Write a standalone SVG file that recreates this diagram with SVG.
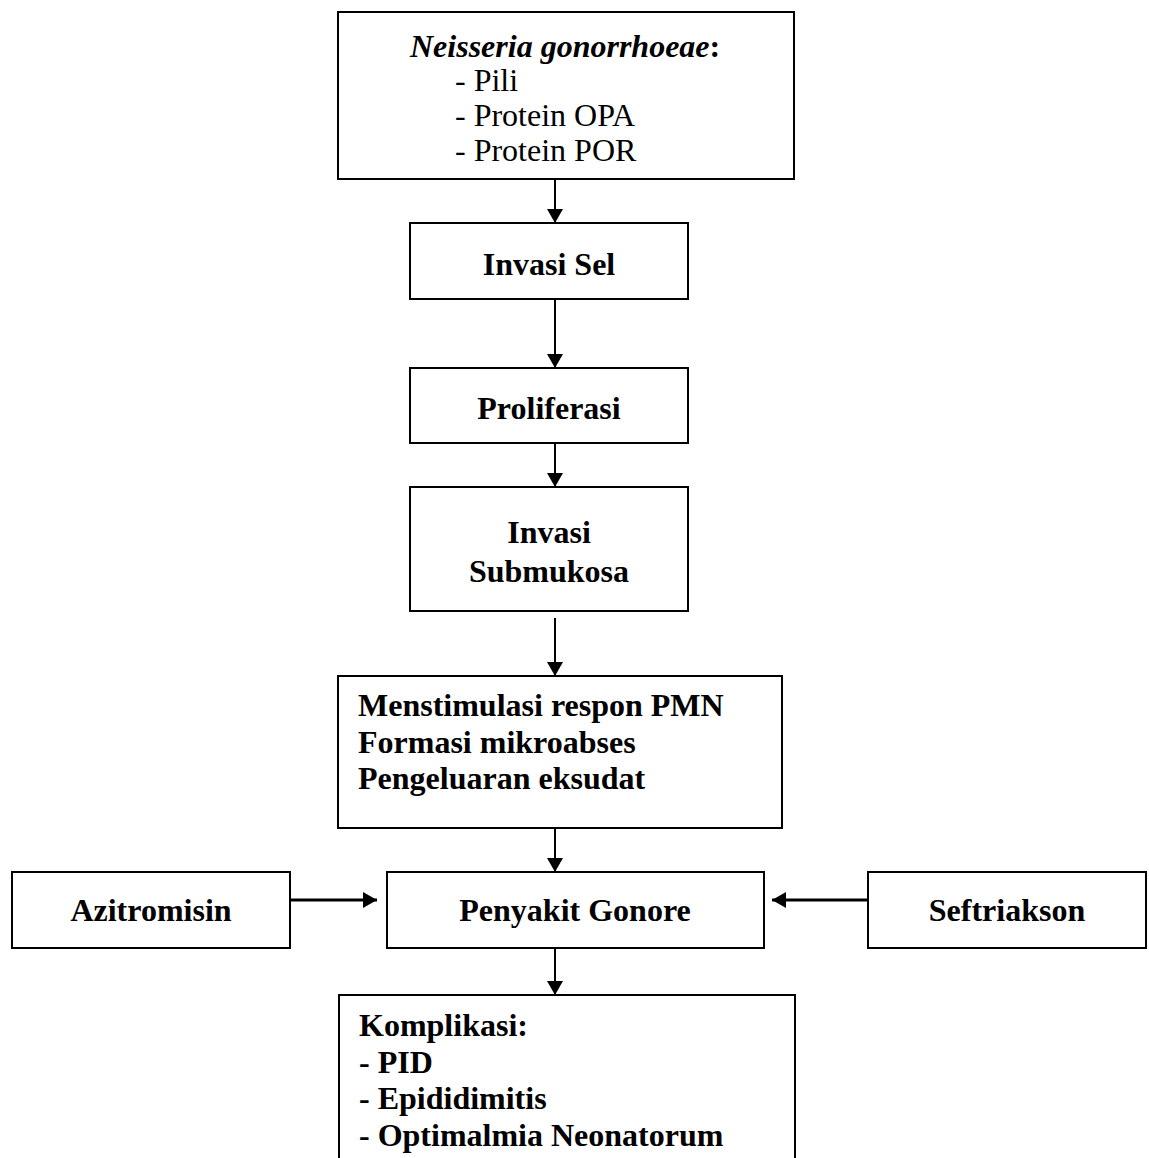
<svg xmlns="http://www.w3.org/2000/svg" width="1149" height="1158" viewBox="0 0 1149 1158">
<style>
.box{fill:#fff;stroke:#000;stroke-width:2}
.t{font-family:"Liberation Serif","Times New Roman",serif;font-size:32px;fill:#000}
.b{font-weight:bold}
.c{text-anchor:middle}
.ln{stroke:#000;stroke-width:2;fill:none}
.thick{stroke-width:3}
</style>
<defs>
<marker id="ah" markerUnits="userSpaceOnUse" markerWidth="16" markerHeight="16" refX="14" refY="8" orient="auto">
<path d="M0,0 L14,8 L0,16 Z" fill="#000"/>
</marker>
</defs>
<rect width="1149" height="1158" fill="#fff"/>
<g id="connectors">
<line class="ln" x1="555" y1="179" x2="555" y2="223" marker-end="url(#ah)"/>
<line class="ln" x1="555" y1="299" x2="555" y2="368" marker-end="url(#ah)"/>
<line class="ln" x1="555" y1="443" x2="555" y2="487" marker-end="url(#ah)"/>
<line class="ln" x1="555" y1="618" x2="555" y2="676" marker-end="url(#ah)"/>
<line class="ln" x1="555" y1="828" x2="555" y2="872" marker-end="url(#ah)"/>
<line class="ln thick" x1="290" y1="900" x2="377" y2="900" marker-end="url(#ah)"/>
<line class="ln thick" x1="868" y1="900" x2="772" y2="900" marker-end="url(#ah)"/>
<line class="ln" x1="555" y1="948" x2="555" y2="995" marker-end="url(#ah)"/>
</g>
<g id="n-neisseria">
<rect class="box" x="338" y="12" width="456" height="167"/>
<text class="t" x="410" y="57"><tspan font-style="italic" font-weight="bold">Neisseria gonorrhoeae</tspan><tspan font-weight="bold">:</tspan></text>
<text class="t" x="455" y="91">- Pili</text>
<text class="t" x="455" y="126">- Protein OPA</text>
<text class="t" x="455" y="161">- Protein POR</text>
</g>
<g id="n-invasi-sel">
<rect class="box" x="410" y="223" width="278" height="76"/>
<text class="t b c" x="549" y="275">Invasi Sel</text>
</g>
<g id="n-proliferasi">
<rect class="box" x="410" y="368" width="278" height="75"/>
<text class="t b c" x="549" y="419">Proliferasi</text>
</g>
<g id="n-submukosa">
<rect class="box" x="410" y="487" width="278" height="124"/>
<text class="t b c" x="549" y="543">Invasi</text>
<text class="t b c" x="549" y="582">Submukosa</text>
</g>
<g id="n-respon">
<rect class="box" x="338" y="676" width="444" height="152"/>
<text class="t b" x="358" y="716">Menstimulasi respon PMN</text>
<text class="t b" x="358" y="753">Formasi mikroabses</text>
<text class="t b" x="358" y="789">Pengeluaran eksudat</text>
</g>
<g id="n-azitromisin">
<rect class="box" x="12" y="872" width="278" height="76"/>
<text class="t b c" x="151" y="921">Azitromisin</text>
</g>
<g id="n-gonore">
<rect class="box" x="387" y="872" width="377" height="76"/>
<text class="t b c" x="575" y="921">Penyakit Gonore</text>
</g>
<g id="n-seftriakson">
<rect class="box" x="868" y="872" width="278" height="76"/>
<text class="t b c" x="1007" y="921">Seftriakson</text>
</g>
<g id="n-komplikasi">
<rect class="box" x="339" y="995" width="456" height="180"/>
<text class="t b" x="359" y="1036">Komplikasi:</text>
<text class="t b" x="359" y="1073">- PID</text>
<text class="t b" x="359" y="1109">- Epididimitis</text>
<text class="t b" x="359" y="1146">- Optimalmia Neonatorum</text>
</g>
</svg>
